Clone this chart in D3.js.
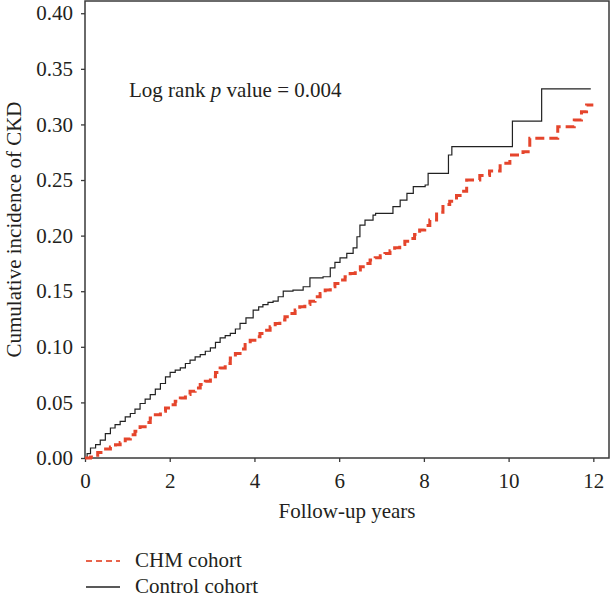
<!DOCTYPE html>
<html>
<head>
<meta charset="utf-8">
<script src="https://cdn.jsdelivr.net/npm/d3@7"></script>
<style>
  html, body { margin: 0; padding: 0; background: #fff; }
  svg { display: block; }
  text { font-family: "Liberation Serif", "Times New Roman", serif; fill: #231f20; }
</style>
</head>
<body>
<svg id="chart" width="612" height="598"></svg>
<script>
// ---- Data ----
const controlYears = [0,0.05,0.13,0.25,0.36,0.48,0.6,0.71,0.83,0.95,1.07,1.18,1.3,1.42,1.54,1.66,1.78,1.9,2.01,2.13,2.25,2.37,2.48,2.6,2.72,2.84,2.96,3.08,3.19,3.31,3.43,3.55,3.66,3.8,3.97,4.1,4.2,4.32,4.44,4.56,4.68,4.91,5.15,5.31,5.62,5.79,5.9,6.02,6.18,6.33,6.42,6.49,6.61,6.8,6.86,7.27,7.44,7.6,7.75,8.03,8.1,8.58,8.66,10.09,10.78,11.94];
const controlIncidence = [0,0.004,0.009,0.012,0.016,0.022,0.027,0.030,0.033,0.037,0.040,0.044,0.049,0.053,0.057,0.062,0.067,0.073,0.077,0.079,0.081,0.085,0.088,0.091,0.093,0.096,0.099,0.104,0.108,0.110,0.112,0.116,0.121,0.126,0.133,0.136,0.138,0.140,0.141,0.145,0.150,0.151,0.154,0.162,0.163,0.171,0.176,0.180,0.184,0.189,0.199,0.2095,0.214,0.2185,0.220,0.226,0.232,0.238,0.244,0.2455,0.256,0.2725,0.280,0.303,0.332,0.332];

const chmYears = [0,0.13,0.3,0.45,0.6,0.72,0.83,0.95,1.07,1.18,1.3,1.42,1.54,1.66,1.78,1.9,2.01,2.13,2.25,2.37,2.48,2.6,2.72,2.84,2.96,3.08,3.19,3.31,3.43,3.55,3.66,3.78,3.9,4.01,4.13,4.25,4.37,4.49,4.6,4.72,4.84,4.96,5.07,5.19,5.31,5.43,5.55,5.67,5.79,5.9,6.02,6.14,6.26,6.38,6.5,6.61,6.73,6.85,6.97,7.08,7.2,7.31,7.43,7.55,7.67,7.78,7.9,8.02,8.14,8.3,8.45,8.61,8.77,8.9,9.01,9.32,9.55,9.8,10.03,10.34,10.5,11.16,11.55,11.72,11.84,12.0];
const chmIncidence = [0,0.001,0.005,0.008,0.010,0.012,0.014,0.017,0.021,0.024,0.028,0.032,0.036,0.039,0.042,0.045,0.048,0.051,0.054,0.057,0.060,0.063,0.066,0.069,0.073,0.077,0.081,0.085,0.090,0.094,0.098,0.102,0.106,0.109,0.112,0.115,0.118,0.121,0.124,0.127,0.130,0.133,0.136,0.138,0.141,0.145,0.148,0.151,0.154,0.157,0.160,0.163,0.166,0.169,0.172,0.175,0.178,0.180,0.182,0.184,0.1865,0.189,0.192,0.195,0.1975,0.201,0.205,0.209,0.214,0.221,0.228,0.231,0.236,0.240,0.250,0.254,0.258,0.265,0.2725,0.2755,0.2875,0.298,0.304,0.3115,0.3175,0.3175];

const xTicks = [0,2,4,6,8,10,12];
const yTicks = [0,0.05,0.10,0.15,0.20,0.25,0.30,0.35,0.40];
const seriesNames = ["CHM cohort", "Control cohort"];
const xTitle = "Follow-up years";
const yTitle = "Cumulative incidence of CKD";

// ---- Layout ----
const plot = { left: 85, right: 609, top: 1, bottom: 458 };
const svg = d3.select("#chart");

const x = d3.scaleLinear().domain([0, 12.37]).range([plot.left, plot.right]);
const y = d3.scaleLinear().domain([0, 0.411]).range([plot.bottom, plot.top]);

const FS = 21;
const axisColor = "#3a3a3a";

// Y axis
const yAxis = svg.append("g")
  .attr("transform", `translate(${plot.left},0)`)
  .call(d3.axisLeft(y).tickValues(yTicks).tickFormat(d3.format(".2f")).tickSize(4).tickPadding(8));
yAxis.select(".domain").remove();
yAxis.selectAll(".tick line").attr("stroke", axisColor).attr("stroke-width", 1.3);
yAxis.selectAll(".tick text").style("font-family", '"Liberation Serif", serif').style("font-size", FS + "px").attr("fill", "#231f20");

// X axis
const xAxis = svg.append("g")
  .attr("transform", `translate(0,${plot.bottom})`)
  .call(d3.axisBottom(x).tickValues(xTicks).tickFormat(d3.format("d")).tickSize(4).tickPadding(11));
xAxis.select(".domain").remove();
xAxis.selectAll(".tick line").attr("stroke", axisColor).attr("stroke-width", 1.3);
xAxis.selectAll(".tick text").style("font-family", '"Liberation Serif", serif').style("font-size", FS + "px").attr("fill", "#231f20");

// Frame
svg.append("rect")
  .attr("x", plot.left).attr("y", plot.top)
  .attr("width", plot.right - plot.left).attr("height", plot.bottom - plot.top)
  .attr("fill", "none").attr("stroke", axisColor).attr("stroke-width", 1.5);

// Curves
const line = d3.line().x(d => x(d[0])).y(d => y(d[1])).curve(d3.curveStepAfter);
const controlData = controlYears.map((t, i) => [t, controlIncidence[i]]);
const chmData = chmYears.map((t, i) => [t, chmIncidence[i]]);

const red = "#e5452c";
svg.append("path").datum(controlData)
  .attr("d", line).attr("fill", "none").attr("stroke", "#222").attr("stroke-width", 1.2);
svg.append("path").datum(chmData)
  .attr("d", line).attr("fill", "none").attr("stroke", red).attr("stroke-width", 3)
  .attr("stroke-dasharray", "9,5");

// Annotation
const ann = svg.append("text").attr("x", 129).attr("y", 97).style("font-size", FS + "px");
ann.append("tspan").text("Log rank ");
ann.append("tspan").style("font-style", "italic").text("p");
ann.append("tspan").text(" value = 0.004");

// Axis titles
svg.append("text")
  .attr("x", (plot.left + plot.right) / 2).attr("y", 518)
  .attr("text-anchor", "middle").style("font-size", FS + "px").text(xTitle);
svg.append("text")
  .attr("transform", `translate(21,${(plot.top + plot.bottom) / 2}) rotate(-90)`)
  .attr("text-anchor", "middle").style("font-size", FS + "px").text(yTitle);

// Legend
const legendRows = [
  { name: seriesNames[0], y: 561, stroke: "#e8634a", dash: "6,4", width: 2 },
  { name: seriesNames[1], y: 587, stroke: "#222", dash: null, width: 1.3 }
];
legendRows.forEach(r => {
  svg.append("line").attr("x1", 86).attr("x2", 120).attr("y1", r.y).attr("y2", r.y)
    .attr("stroke", r.stroke).attr("stroke-width", r.width)
    .attr("stroke-dasharray", r.dash);
  svg.append("text").attr("x", 135).attr("y", r.y + 6).style("font-size", FS + "px").text(r.name);
});
</script>
</body>
</html>
